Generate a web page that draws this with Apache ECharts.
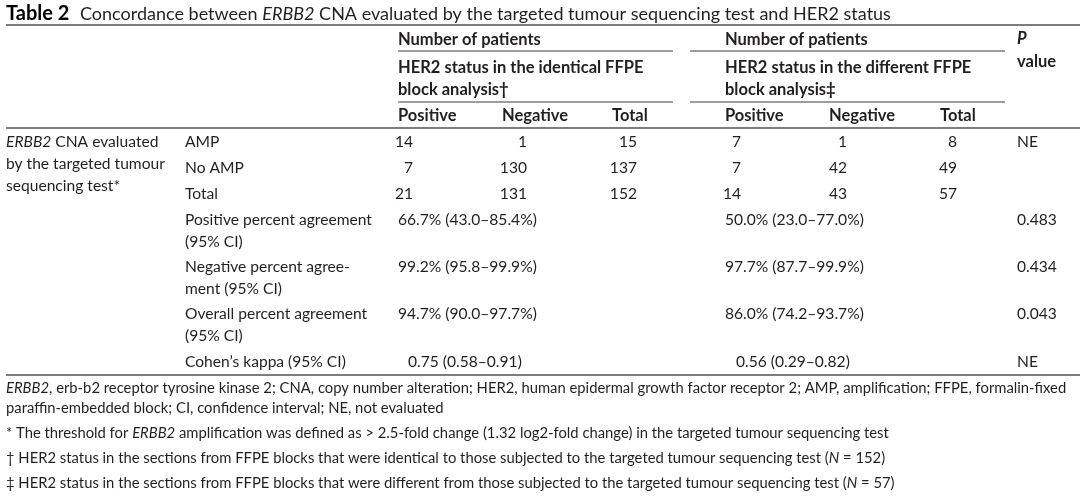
<!DOCTYPE html>
<html>
<head>
<meta charset="utf-8">
<script src="https://cdn.jsdelivr.net/npm/echarts@6/dist/echarts.min.js"></script>
<style>
html,body{margin:0;padding:0;background:#fff;}
#chart{width:1080px;height:497px;}
</style>
</head>
<body>
<div id="chart"></div>
<script>
// ---------- data ----------
const tableLabel = 'Table 2';
const tableTitle = 'Concordance between {i|ERBB2} CNA evaluated by the targeted tumour sequencing test and HER2 status';
const groupTitles = ['Number of patients', 'Number of patients'];
const subgroupTitles = [
  ['HER2 status in the identical FFPE', 'block analysis†'],
  ['HER2 status in the different FFPE', 'block analysis‡']
];
const colHeaders = ['Positive', 'Negative', 'Total'];
const pHeader = ['{bi|P}', 'value'];
const stubLabel = ['{i|ERBB2} CNA evaluated', 'by the targeted tumour', 'sequencing test*'];
const countRows = ['AMP', 'No AMP', 'Total'];
const identicalCounts = [[14, 1, 15], [7, 130, 137], [21, 131, 152]];
const differentCounts = [[7, 1, 8], [7, 42, 49], [14, 43, 57]];
const agreementRows = [
  ['Positive percent agreement', '(95% CI)'],
  ['Negative percent agree-', 'ment (95% CI)'],
  ['Overall percent agreement', '(95% CI)'],
  ['Cohen’s kappa (95% CI)']
];
const identicalAgreement = ['66.7% (43.0–85.4%)', '99.2% (95.8–99.9%)', '94.7% (90.0–97.7%)', '0.75 (0.58–0.91)'];
const differentAgreement = ['50.0% (23.0–77.0%)', '97.7% (87.7–99.9%)', '86.0% (74.2–93.7%)', '0.56 (0.29–0.82)'];
const countPValues = ['NE', '', ''];
const agreementPValues = ['0.483', '0.434', '0.043', 'NE'];
const footnotes = [
  '{i|ERBB2}, erb-b2 receptor tyrosine kinase 2; CNA, copy number alteration; HER2, human epidermal growth factor receptor 2; AMP, amplification; FFPE, formalin-fixed',
  'paraffin-embedded block; CI, confidence interval; NE, not evaluated',
  '* The threshold for {i|ERBB2} amplification was defined as > 2.5-fold change (1.32 log2-fold change) in the targeted tumour sequencing test',
  '† HER2 status in the sections from FFPE blocks that were identical to those subjected to the targeted tumour sequencing test ({i|N} = 152)',
  '‡ HER2 status in the sections from FFPE blocks that were different from those subjected to the targeted tumour sequencing test ({i|N} = 57)'
];

// ---------- layout / style ----------
const FONT = 'Lato';
const FS = 15.6;      // body
const FS_HEAD = 16.5; // bold column headers
const FS_FOOT = 14.8; // footnotes
const COLOR = '#231f20';
const RULE = '#7d7d7d';
function richFor(fs) {
  return {
    i: {fontStyle: 'italic', fontFamily: FONT, fontSize: fs, fill: COLOR},
    bi: {fontStyle: 'italic', fontWeight: 'bold', fontFamily: FONT, fontSize: fs, fill: COLOR}
  };
}
const els = [];
function txt(x, y, text, opt) {
  opt = opt || {};
  const fs = opt.fs || FS;
  els.push({
    type: 'text', x: x, y: y, silent: true,
    style: {
      text: String(text), fill: opt.color || COLOR, fontFamily: FONT,
      fontSize: fs, fontWeight: opt.bold ? 'bold' : 'normal',
      align: opt.align || 'left', verticalAlign: 'middle',
      rich: richFor(fs)
    }
  });
}
function rule(x1, x2, y, w) {
  els.push({type: 'line', silent: true, shape: {x1: x1, y1: y, x2: x2, y2: y},
    style: {stroke: RULE, lineWidth: w || 1.5}});
}

// title
txt(6, 14, tableLabel, {bold: true, fs: 20, color: '#000'});
txt(80, 14, tableTitle, {fs: 18});
rule(6, 1080, 25, 2);

// column header geometry
const groupX = [[398, 673], [690, 1005]];
const numRight = [[413, 527, 637], [741, 847, 957]];
const headX = [[398, 502, 612], [725, 829, 940]];
const agreeX = [398, 725];
const kappaX = [408, 736];
const pX = 1017;

for (let g = 0; g < 2; g++) {
  txt(headX[g][0], 40, groupTitles[g], {bold: true, fs: FS_HEAD});
  rule(groupX[g][0], groupX[g][1], 51);
  txt(headX[g][0], 68, subgroupTitles[g][0], {bold: true, fs: FS_HEAD});
  txt(headX[g][0], 90, subgroupTitles[g][1], {bold: true, fs: FS_HEAD});
  rule(groupX[g][0], groupX[g][1], 102);
  colHeaders.forEach((h, c) => txt(headX[g][c], 116, h, {bold: true, fs: FS_HEAD}));
}
txt(pX, 39, pHeader[0], {bold: true, fs: FS_HEAD});
txt(pX, 62, pHeader[1], {bold: true, fs: FS_HEAD});
rule(6, 1080, 128, 2);

// body
const stubY = [142, 164, 186];
stubLabel.forEach((s, k) => txt(6, stubY[k], s));
const rowX = 185;
const countY = [142, 168, 194];
countRows.forEach((lab, r) => {
  const y = countY[r];
  txt(rowX, y, lab);
  [identicalCounts, differentCounts].forEach((arr, g) => {
    arr[r].forEach((v, c) => txt(numRight[g][c], y, v, {align: 'right'}));
  });
  if (countPValues[r]) txt(pX, y, countPValues[r]);
});
const agreeY = [220, 267, 314, 362];
agreementRows.forEach((lines, r) => {
  const y = agreeY[r];
  lines.forEach((l, k) => txt(rowX, y + k * 22, l));
  const isKappa = r === agreementRows.length - 1;
  txt(isKappa ? kappaX[0] : agreeX[0], y, identicalAgreement[r]);
  txt(isKappa ? kappaX[1] : agreeX[1], y, differentAgreement[r]);
  txt(pX, y, agreementPValues[r]);
});
rule(6, 1080, 375, 2);

// footnotes
const footY = [388, 408, 433, 458, 483];
footnotes.forEach((f, k) => txt(6, footY[k], f, {fs: FS_FOOT}));

const chart = echarts.init(document.getElementById('chart'), null, {renderer: 'canvas'});
chart.setOption({
  backgroundColor: '#fff',
  animation: false,
  graphic: {elements: els}
});
</script>
</body>
</html>
